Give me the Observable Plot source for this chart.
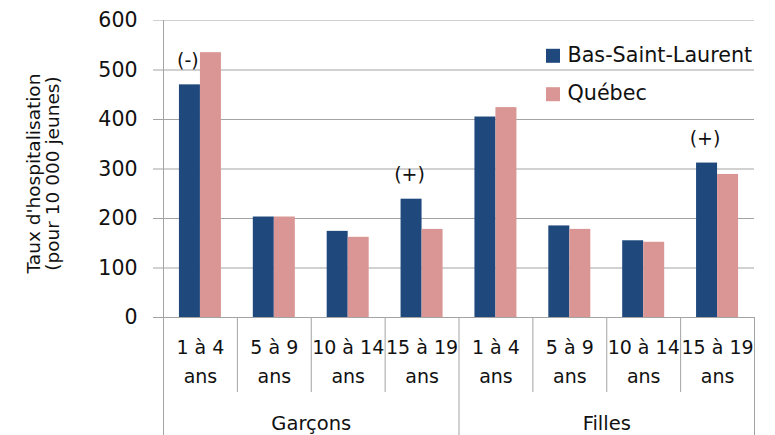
<!DOCTYPE html>
<html><head><meta charset="utf-8">
<script src="https://cdn.jsdelivr.net/npm/d3@7"></script>
<script src="https://cdn.jsdelivr.net/npm/@observablehq/plot@0.6"></script>
<style>body{margin:0;background:#fff;}</style>
</head><body><div id="chart"></div>
<script>
// ---- data ----
const groups = ["Garçons", "Filles"];
const ageLabels = ["1 à 4", "5 à 9", "10 à 14", "15 à 19"];
const seriesNames = ["Bas-Saint-Laurent", "Québec"];
const bslValues = [470, 203, 174, 239, 405, 185, 155, 312];
const quebecValues = [535, 203, 162, 178, 424, 178, 152, 289];
const significance = ["(-)", "", "", "(+)", "", "", "", "(+)"];
const yTicks = [0, 100, 200, 300, 400, 500, 600];
const yTitle = "Taux d'hospitalisation\n(pour 10 000 jeunes)";

// ---- style ----
const colors = ["#1F497D", "#D99694"];
const gridColor = "#a3a3a3";
const textColor = "#111111";
const W = 775, H = 435, ML = 163, MR = 21, MT = 20, MB = 118;

const keys = groups.flatMap(g => ageLabels.map(a => g + "|" + a));
const rows = keys.map((k, i) => ({
  key: k, group: k.split("|")[0], age: k.split("|")[1],
  bsl: bslValues[i], qc: quebecValues[i], sig: significance[i]
}));
const bw = (W - ML - MR) / keys.length;
const barW = 21;
const outer = (bw - 2 * barW) / 2;
const plotH = H - MT - MB;

const innerSeps = keys.filter((k, i) => i % ageLabels.length !== 0);
const groupStarts = groups.map((g, gi) => keys[gi * ageLabels.length]);
const groupCenters = groups.map((g, gi) => ({key: keys[gi * ageLabels.length + 1], label: g}));

const chart = Plot.plot({
  width: W, height: H,
  marginLeft: ML, marginRight: MR, marginTop: MT, marginBottom: MB,
  style: {fontFamily: "DejaVu Sans", fontSize: "19px", color: textColor, background: "#fff"},
  x: {type: "band", domain: keys, paddingInner: 0, paddingOuter: 0, round: false, axis: null},
  y: {domain: [0, 600], axis: null},
  marks: [
    Plot.ruleY(yTicks, {stroke: d => d === 600 ? "#d0d0d0" : gridColor, insetLeft: -10}),
    Plot.barY(rows, {x: "key", y: "bsl", fill: colors[0], insetLeft: outer, insetRight: outer + barW}),
    Plot.barY(rows, {x: "key", y: "qc", fill: colors[1], insetLeft: outer + barW, insetRight: outer}),
    // category separators below axis
    Plot.ruleX(innerSeps, {x: d => d, dx: -bw / 2, stroke: gridColor, insetTop: plotH, insetBottom: -75}),
    Plot.ruleX([groupStarts[0]], {x: d => d, dx: -bw / 2, stroke: gridColor, insetTop: 0, insetBottom: -MB}),
    Plot.ruleX([groupStarts[1]], {x: d => d, dx: -bw / 2, stroke: gridColor, insetTop: plotH, insetBottom: -MB}),
    Plot.ruleX([keys[keys.length - 1]], {x: d => d, dx: bw / 2, stroke: gridColor, insetTop: plotH, insetBottom: -MB}),
    // significance annotations
    Plot.text(rows.filter(d => d.sig), {x: "key", y: "bsl", text: "sig", dx: -barW / 2 - 2, dy: -24, fontSize: 19, fill: textColor}),
    // x labels
    Plot.text(rows, {x: "key", text: d => d.age + "\nans", frameAnchor: "bottom", lineAnchor: "middle", textAnchor: "middle", dy: 42, lineHeight: 1.53, fontSize: 19, fill: textColor}),
    Plot.text(groupCenters, {x: "key", text: "label", frameAnchor: "bottom", lineAnchor: "middle", textAnchor: "middle", dx: bw / 2, dy: 106, fontSize: 19.5, fill: textColor}),
    // y axis
    Plot.axisY({ticks: yTicks, tickSize: 0, tickPadding: 26, fontSize: 20.5, label: null, fill: textColor}),
    Plot.text([yTitle], {text: d => d, frameAnchor: "left", rotate: -90, textAnchor: "middle", lineAnchor: "middle", dx: -120, dy: 4.5, fontSize: 18.5, lineHeight: 1.02, fill: textColor}),
    // legend
    ...seriesNames.flatMap((s, i) => [
      Plot.dot([s], {frameAnchor: "top-left", dx: 389.5, dy: 35.3 + i * 38.4, symbol: "square", r: 7.9, fill: colors[i]}),
      Plot.text([s], {text: d => d, frameAnchor: "top-left", textAnchor: "start", lineAnchor: "middle", dx: 404, dy: 34.5 + i * 38.4, fontSize: 20.7, fill: textColor})
    ])
  ]
});
document.getElementById("chart").appendChild(chart);
</script>
</body></html>
